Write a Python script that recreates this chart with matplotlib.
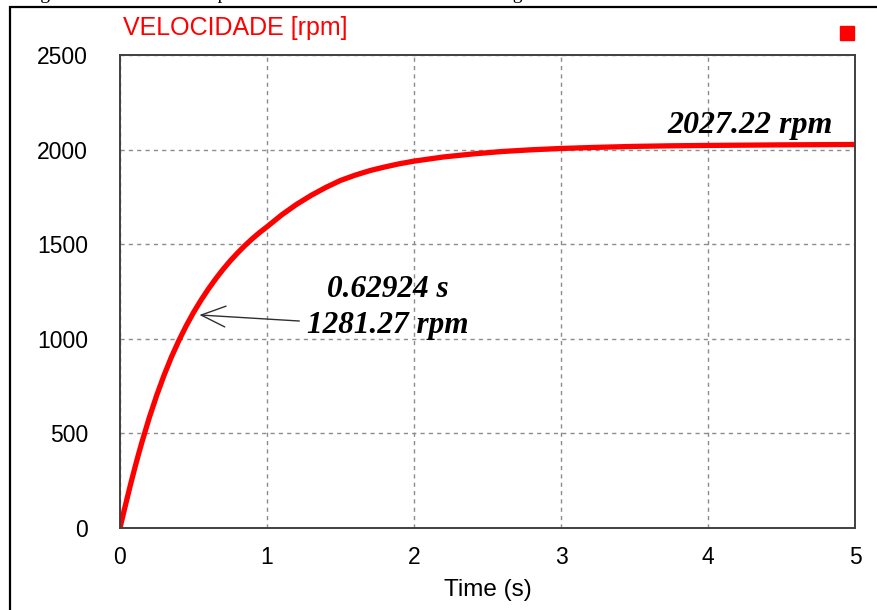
import matplotlib.pyplot as plt
from matplotlib.patches import Rectangle

# speed response
time_s = [0, 0.025, 0.05, 0.075, 0.1, 0.125, 0.15, 0.2, 0.25, 0.3, 0.35, 0.4,
          0.45, 0.5, 0.55, 0.6, 0.65, 0.7, 0.75, 0.8, 0.85, 0.9, 0.95, 1.0,
          1.1, 1.2, 1.3, 1.4, 1.5, 1.6, 1.7, 1.8, 1.9, 2.0, 2.2, 2.4, 2.6,
          2.8, 3.0, 3.25, 3.5, 3.75, 4.0, 4.5, 5.0]
speed_rpm = [0, 82, 162, 240, 315, 387, 456, 585, 702, 808, 904, 990,
             1068, 1139, 1203, 1262, 1316, 1366, 1412, 1454, 1493, 1529, 1562, 1592,
             1655, 1710, 1758, 1800, 1837, 1865, 1889, 1908, 1925, 1939, 1961, 1977, 1990,
             1999, 2006, 2012, 2017, 2020, 2022, 2025, 2027]

x_ticks = [0, 1, 2, 3, 4, 5]
y_ticks = [0, 500, 1000, 1500, 2000, 2500]

arrow_tip = (0.54, 1126)
arrow_tail = (1.22, 1094)
marker_time = "0.62924 s"
marker_speed = "1281.27 rpm"
final_label = "2027.22 rpm"

W, H = 878, 610
fig = plt.figure(figsize=(W / 100, H / 100), dpi=100)
ax = fig.add_axes([120 / W, 1 - 528 / H, 735 / W, 473 / H])

# outer frame of the original screenshot and the clipped caption above it
fig.patches.append(Rectangle((10 / W, -0.1), 1.2, 1 - 7 / H + 0.1,
                             transform=fig.transFigure, fill=False,
                             edgecolor="black", linewidth=1.6))
fig.text(24 / W, 1 + 1 / H, "Figura 15 – Curva de resposta da velocidade do motor sem carga",
         family="Liberation Serif", fontsize=14, va="baseline", ha="left")

ax.plot(time_s, speed_rpm, color="#ff0000", linewidth=3.8,
        solid_capstyle="butt", solid_joinstyle="round")

ax.set_xlim(0, 5)
ax.set_ylim(0, 2500)
ax.set_xticks(x_ticks)
ax.set_yticks(y_ticks)
ax.tick_params(length=0, labelsize=16.5)
ax.tick_params(axis="y", pad=23)
ax.tick_params(axis="x", pad=13)
for lab in ax.get_xticklabels() + ax.get_yticklabels():
    lab.set_family("Liberation Sans")
ax.set_xlabel("Time (s)", family="Liberation Sans", fontsize=17.5, labelpad=7)

ax.grid(True, color="#8c8c8c", linestyle=(0, (3, 3)), linewidth=1.0)
for s in ax.spines.values():
    s.set_color("#404040")
    s.set_linewidth(1.4)

ax.text(0.157, 1.057, "VELOCIDADE [rpm]", color="#ff0000", family="Liberation Sans",
        fontsize=18, ha="center", va="center", transform=ax.transAxes)
ax.plot([0.989], [1.0465], marker="s", color="#ff0000", markersize=10,
        transform=ax.transAxes, clip_on=False)

ax.annotate("", xy=arrow_tip, xytext=arrow_tail,
            arrowprops=dict(arrowstyle="->,head_length=0.7,head_width=0.3",
                            color="#303030", lw=1.0, mutation_scale=25,
                            shrinkA=0, shrinkB=0))
ax.text(1.823, 1258, marker_time, family="Liberation Serif", fontsize=22.5,
        fontweight="bold", fontstyle="italic", ha="center", va="center")
ax.text(1.823, 1068, marker_speed, family="Liberation Serif", fontsize=22.5,
        fontweight="bold", fontstyle="italic", ha="center", va="center")
ax.text(4.286, 2088, final_label, family="Liberation Serif", fontsize=23,
        fontweight="bold", fontstyle="italic", ha="center", va="baseline")

fig.savefig("out.png", dpi=100)
